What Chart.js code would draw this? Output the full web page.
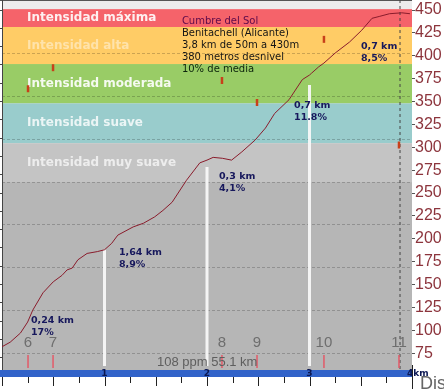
<!DOCTYPE html>
<html>
<head>
<meta charset="utf-8">
<title>Cumbre del Sol</title>
<script src="https://cdn.jsdelivr.net/npm/chart.js"></script>
<style>
  html, body { margin: 0; padding: 0; background: #fff; }
  canvas { display: block; }
</style>
</head>
<body>
<canvas id="profile" width="444" height="389"></canvas>
<script>
// altimetry: distance in km, elevation in m
var distKm = [0, 0.08, 0.18, 0.25, 0.30, 0.40, 0.50, 0.585, 0.635, 0.685, 0.74, 0.83, 0.93, 1.0,
  1.07, 1.13, 1.28, 1.38, 1.49, 1.57, 1.66, 1.80, 1.93, 2.0, 2.06, 2.15, 2.24, 2.34, 2.47,
  2.57, 2.66, 2.80, 2.93, 3.0, 3.02, 3.09, 3.14, 3.25, 3.39, 3.51, 3.61, 3.68, 3.78, 3.90, 3.98];
var elevM = [82, 87, 97, 109, 122, 141, 153, 160, 166, 168, 177, 184, 186, 188,
  195, 204, 213, 217, 224, 231, 240, 264, 283, 286, 289, 288, 286, 295, 308,
  321, 337, 352, 374, 379, 381, 388, 392, 403, 415, 428, 441, 443, 446, 447, 446];

var yTicks = [75, 100, 125, 150, 175, 200, 225, 250, 275, 300, 325, 350, 375, 400, 425, 450];
var leftTicks = [70, 90, 110, 130, 150, 170, 190, 210, 230, 250, 270, 290, 310, 330, 350, 370, 390, 410, 430, 450];
var gridVals = [75, 121.5, 168.5, 215.5, 262, 309, 356, 403];
var kmTicks = [0, 0.25, 0.5, 0.75, 1, 1.25, 1.5, 1.75, 2, 2.25, 2.5, 2.75, 3, 3.25, 3.5, 3.75, 4];
var kmLabels = ['', '', '', '', '1', '', '', '', '2', '', '', '', '3', '', '', '', '4km'];

// intensity bands (upper edge in m)
var bandTop = [451, 431.5, 391, 348, 304.5, 262];
var bandBottom = [431.5, 391, 348, 304.5, 262, 0];
var bandNames = ['Intensidad máxima', 'Intensidad alta', 'Intensidad moderada', 'Intensidad suave', 'Intensidad muy suave', ''];
var bandColors = ['#f5636a', '#ffcc66', '#99cc66', '#99cccc', '#c4c4c4', '#b6b6b6'];
var bandText = ['rgba(255,255,255,0.9)', 'rgba(255,255,255,0.45)', 'rgba(255,255,255,0.9)', 'rgba(255,255,255,0.8)', 'rgba(255,255,255,0.7)', ''];

// waypoints
var markerNames = ['6', '7', '8', '9', '10', '11'];
var markerKm = [0.254, 0.498, 2.146, 2.488, 3.141, 3.873];
var markerElev = [364, 387, 373, 349, 418, 302.5];
var markerFoot = 66;

var kmLineKm = [1, 2, 3];
var kmLineTop = [188, 278.5, 368];
var kmLineFoot = 61;
var endKm = 3.883;

// segment notes
var segKm = [0.283, 1.141, 2.117, 2.849, 3.502];
var segElev = [111, 184.5, 268.6, 346.2, 409.6];
var segLen = ['0,24 km', '1,64 km', '0,3 km', '0,7 km', '0,7 km'];
var segPct = ['17%', '8,9%', '4,1%', '11.8%', '8,5%'];

var summary = ['Cumbre del Sol', 'Benitachell (Alicante)', '3,8 km de 50m a 430m', '380 metros desnivel', '10% de media'];
var summaryColors = ['#5c0a4a', '#151515', '#151515', '#151515', '#0c240c'];
var summaryKm = 1.755;
var summaryElev = 437.3;

var footer = '108 ppm 55.1 km';
var footerKm = 1.512;
var footerElev = 65.3;

var Y_MIN = 56.6;
var Y_MAX = 461;

function pts(xs, ys) {
  return xs.map(function(v, i) { return {x: v, y: ys[i]}; });
}

var bandsPlugin = {
  id: 'bands',
  beforeDraw: function(chart) {
    var ctx = chart.ctx, a = chart.chartArea, y = chart.scales.y;
    ctx.save();
    ctx.fillStyle = '#ececec';
    ctx.fillRect(a.left, a.top, a.right - a.left, a.bottom - a.top);
    bandTop.forEach(function(t, i) {
      var top = y.getPixelForValue(t);
      var bot = Math.min(y.getPixelForValue(Math.max(bandBottom[i], Y_MIN)), a.bottom);
      ctx.fillStyle = bandColors[i];
      ctx.fillRect(a.left, top, a.right - a.left, bot - top);
    });
    ctx.strokeStyle = '#555';
    ctx.beginPath();
    ctx.moveTo(0, 0.5);
    ctx.lineTo(a.right, 0.5);
    ctx.stroke();
    ctx.restore();
  },
  beforeDatasetsDraw: function(chart) {
    var ctx = chart.ctx, x = chart.scales.x, y = chart.scales.y;
    ctx.save();
    ctx.font = 'bold 12px "DejaVu Sans"';
    ctx.textBaseline = 'middle';
    ctx.textAlign = 'left';
    bandNames.forEach(function(name, i) {
      if (!name) return;
      ctx.fillStyle = bandText[i];
      var mid = (y.getPixelForValue(bandTop[i]) + y.getPixelForValue(bandBottom[i])) / 2;
      ctx.fillText(name, x.getPixelForValue(0.245), mid);
    });
    ctx.restore();
  }
};

var textPlugin = {
  id: 'texts',
  afterDatasetsDraw: function(chart) {
    var ctx = chart.ctx, x = chart.scales.x, y = chart.scales.y;
    ctx.save();
    ctx.textBaseline = 'middle';
    ctx.textAlign = 'left';

    ctx.font = '10px "DejaVu Sans"';
    summary.forEach(function(line, i) {
      ctx.fillStyle = summaryColors[i];
      ctx.fillText(line, x.getPixelForValue(summaryKm), y.getPixelForValue(summaryElev) + i * 12);
    });

    ctx.font = 'bold 9.5px "DejaVu Sans"';
    ctx.fillStyle = '#17185c';
    segKm.forEach(function(km, i) {
      var px = x.getPixelForValue(km), py = y.getPixelForValue(segElev[i]);
      ctx.fillText(segLen[i], px, py);
      ctx.fillText(segPct[i], px, py + 12);
    });

    ctx.textAlign = 'center';
    ctx.font = '15px "Liberation Sans Narrow", "Liberation Sans"';
    ctx.fillStyle = '#6e6e6e';
    markerNames.forEach(function(n, i) {
      ctx.fillText(n, x.getPixelForValue(markerKm[i]), y.getPixelForValue(86));
    });

    ctx.textAlign = 'left';
    ctx.font = '13px "Liberation Sans"';
    ctx.fillStyle = '#5e5e5e';
    ctx.fillText(footer, x.getPixelForValue(footerKm), y.getPixelForValue(footerElev));
    ctx.restore();
  },
  afterDraw: function(chart) {
    var ctx = chart.ctx, a = chart.chartArea, x = chart.scales.x;
    ctx.save();
    ctx.fillStyle = '#3263c9';
    ctx.fillRect(0, a.bottom, a.right, 7);

    ctx.strokeStyle = '#222';
    ctx.lineWidth = 1;
    ctx.beginPath();
    kmTicks.forEach(function(km, i) {
      var px = Math.round(x.getPixelForValue(km)) + 0.5;
      var len = i % 2 === 0 ? 16 : 13;
      ctx.moveTo(px, a.bottom + 7);
      ctx.lineTo(px, a.bottom + len);
    });
    var endPx = Math.round(x.getPixelForValue(4)) + 0.5;
    ctx.moveTo(endPx, a.bottom - 5);
    ctx.lineTo(endPx, 389);
    ctx.stroke();

    ctx.font = 'bold 9px "DejaVu Sans"';
    ctx.fillStyle = '#0b1752';
    ctx.textBaseline = 'middle';
    kmTicks.forEach(function(km, i) {
      var lab = kmLabels[i];
      if (!lab) return;
      var px = x.getPixelForValue(km);
      if (lab.length > 1) {
        ctx.textAlign = 'left';
        ctx.fillText(lab, px - 5, a.bottom + 4);
      } else {
        ctx.textAlign = 'center';
        ctx.fillText(lab, px, a.bottom + 4);
      }
    });

    ctx.font = '18px "Liberation Sans"';
    ctx.fillStyle = '#666';
    ctx.textAlign = 'left';
    ctx.textBaseline = 'alphabetic';
    ctx.fillText('Dis', 420, 389);
    ctx.restore();
  }
};

var datasets = [
  {
    label: 'perfil',
    data: pts(distKm, elevM),
    showLine: true,
    borderColor: '#8a1c2c',
    borderWidth: 1,
    pointRadius: 0,
    yAxisID: 'y'
  },
  {
    label: 'marcas',
    data: pts(markerKm, markerElev),
    pointStyle: 'line',
    rotation: 90,
    pointRadius: 3.5,
    pointBorderWidth: 2.5,
    pointBorderColor: '#c8401a',
    yAxisID: 'y'
  },
  {
    label: 'marcas base',
    data: markerKm.map(function(km) { return {x: km, y: markerFoot}; }),
    pointStyle: 'line',
    rotation: 90,
    pointRadius: 6.5,
    pointBorderWidth: 1.5,
    pointBorderColor: '#e35a68',
    yAxisID: 'y'
  }
];

kmLineKm.forEach(function(km, i) {
  datasets.push({
    label: 'km ' + km,
    data: [{x: km, y: kmLineTop[i]}, {x: km, y: kmLineFoot}],
    showLine: true,
    borderColor: 'rgba(248,248,248,0.95)',
    borderWidth: 3,
    pointRadius: 0,
    yAxisID: 'y'
  });
});

datasets.push({
  label: 'fin',
  data: [{x: endKm, y: Y_MAX}, {x: endKm, y: Y_MIN}],
  showLine: true,
  borderColor: '#444',
  borderWidth: 1,
  borderDash: [3, 3],
  pointRadius: 0,
  yAxisID: 'y'
});

function setTicks(list) {
  return function(scale) {
    scale.ticks = list.map(function(v) { return {value: v}; });
  };
}

function fixSize(w, h) {
  return function(scale) {
    if (w !== null) scale.width = w;
    if (h !== null) scale.height = h;
    scale.paddingTop = 0;
    scale.paddingBottom = 0;
    scale.paddingLeft = 0;
    scale.paddingRight = 0;
  };
}

new Chart(document.getElementById('profile'), {
  type: 'scatter',
  data: {datasets: datasets},
  plugins: [bandsPlugin, textPlugin],
  options: {
    responsive: false,
    animation: false,
    events: [],
    layout: {padding: 0, autoPadding: false},
    plugins: {legend: {display: false}, tooltip: {enabled: false}},
    scales: {
      x: {
        type: 'linear',
        min: 0,
        max: 4,
        ticks: {display: false},
        grid: {display: false},
        border: {display: false},
        afterFit: fixSize(null, 19)
      },
      y: {
        type: 'linear',
        position: 'right',
        min: Y_MIN,
        max: Y_MAX,
        afterBuildTicks: setTicks(yTicks),
        ticks: {
          autoSkip: false,
          padding: 0,
          color: '#8c343c',
          font: {family: 'Liberation Sans', size: 16}
        },
        grid: {drawOnChartArea: false, tickLength: 3, color: '#555'},
        border: {display: false},
        afterFit: fixSize(32, null)
      },
      yL: {
        type: 'linear',
        position: 'left',
        min: Y_MIN,
        max: Y_MAX,
        afterBuildTicks: setTicks(leftTicks),
        ticks: {display: false},
        grid: {drawOnChartArea: false, tickLength: 2, color: '#444'},
        border: {display: true, color: '#444'},
        afterFit: fixSize(2, null)
      },
      yGrid: {
        type: 'linear',
        position: 'right',
        min: Y_MIN,
        max: Y_MAX,
        afterBuildTicks: setTicks(gridVals),
        ticks: {display: false},
        grid: {drawOnChartArea: true, drawTicks: false, color: 'rgba(0,0,0,0.2)'},
        border: {display: false, dash: [3, 2]},
        afterFit: fixSize(0, null)
      }
    }
  }
});
</script>
</body>
</html>
